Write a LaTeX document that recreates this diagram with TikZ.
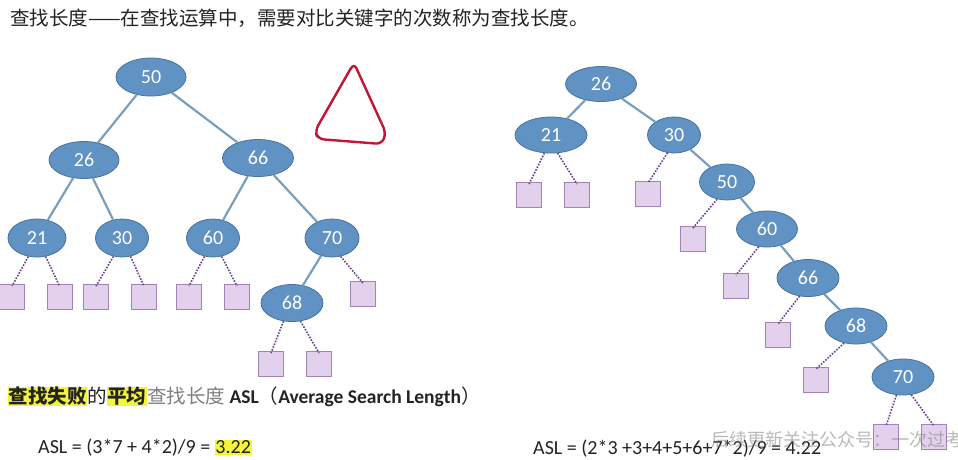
\documentclass[tikz,border=0pt]{standalone}
\usepackage{fontspec}
\setmainfont{Carlito}
\newfontfamily\cjk{Noto Sans CJK SC}
\usetikzlibrary{shapes.geometric}
\definecolor{nodefill}{RGB}{96,146,196}
\definecolor{nodeborder}{RGB}{70,115,160}
\definecolor{edgecol}{RGB}{120,160,190}
\definecolor{leaffill}{RGB}{226,208,236}
\definecolor{leafborder}{RGB}{160,132,182}
\definecolor{dotcol}{RGB}{105,65,140}
\definecolor{hl}{RGB}{245,245,60}
\definecolor{txt}{RGB}{35,35,35}
\definecolor{redpen}{RGB}{196,22,50}
\tikzset{
  tn/.style={ellipse, draw=nodeborder, line width=0.8, fill=nodefill, text=white,
    minimum width=60, minimum height=37, inner sep=0,
    font=\fontsize{20}{20}\selectfont},
  leaf/.style={rectangle, draw=leafborder, line width=0.9, fill=leaffill, minimum size=25, inner sep=0},
  treeedge/.style={draw=edgecol, line width=2.2},
  dotedge/.style={draw=dotcol, line width=1.6, dash pattern=on 1.6pt off 1.4pt},
}
\begin{document}
\begin{tikzpicture}[x=1pt,y=-1pt]
\useasboundingbox (0,0) rectangle (958,459);
\fill[white] (0,0) rectangle (958,459);

% title
\node[anchor=west, inner sep=0, text=txt, font=\cjk\fontsize{19.5}{20}\selectfont] (title) at (10,18)
  {查找长度——在查找运算中，需要对比关键字的次数称为查找长度。};

% ---------- left tree ----------
\node[tn, minimum width=70, minimum height=38] (L50) at (151,77) {50};
\node[tn, minimum width=70] (L26) at (84,160) {26};
\node[tn, minimum width=71] (L66) at (258,158) {66};
\node[tn, minimum width=58, minimum height=38] (L21) at (37,238) {21};
\node[tn, minimum width=53, minimum height=38] (L30) at (122,238) {30};
\node[tn, minimum width=53, minimum height=38] (L60) at (213,238) {60};
\node[tn, minimum width=54, minimum height=38] (L70) at (332,238) {70};
\node[tn, minimum width=62] (L68) at (292,303) {68};

\draw[treeedge] (L50) -- (L26);
\draw[treeedge] (L50) -- (L66);
\draw[treeedge] (L26) -- (L21);
\draw[treeedge] (L26) -- (L30);
\draw[treeedge] (L66) -- (L60);
\draw[treeedge] (L66) -- (L70);
\draw[treeedge] (L70) -- (L68);

\node[leaf] (La) at (12,297) {};
\node[leaf] (Lb) at (59.5,297) {};
\node[leaf] (Lc) at (96,297) {};
\node[leaf] (Ld) at (144,297) {};
\node[leaf] (Le) at (189,297) {};
\node[leaf] (Lf) at (237,297) {};
\node[leaf] (Lg) at (363,294) {};
\node[leaf] (Lh) at (271,364) {};
\node[leaf] (Li) at (319,364) {};

\draw[dotedge] (L21.-115) -- ([yshift=-2]La.north);
\draw[dotedge] (L21.-65) -- ([yshift=-2]Lb.north);
\draw[dotedge] (L30.-115) -- ([yshift=-2]Lc.north);
\draw[dotedge] (L30.-65) -- ([yshift=-2]Ld.north);
\draw[dotedge] (L60.-115) -- ([yshift=-2]Le.north);
\draw[dotedge] (L60.-65) -- ([yshift=-2]Lf.north);
\draw[dotedge] (L70.-65) -- ([yshift=-2]Lg.north);
\draw[dotedge] (L68.-115) -- ([yshift=-2]Lh.north);
\draw[dotedge] (L68.-65) -- ([yshift=-2]Li.north);

% red hand-drawn triangle
\draw[redpen, line width=2.4, line cap=round, line join=round, rounded corners=6]
  (350,70) -- (354,63) -- (386,133) -- (382,144) -- (318,139) -- (315,131) -- (351,68);

% ---------- right tree ----------
\node[tn, minimum width=71, minimum height=35] (R26) at (601,84) {26};
\node[tn, minimum width=72, minimum height=36] (R21) at (551,135) {21};
\node[tn, minimum width=53, minimum height=36] (R30) at (674,135) {30};
\node[tn, minimum width=55, minimum height=36] (R50) at (727,182) {50};
\node[tn, minimum width=61, minimum height=36] (R60) at (767,229) {60};
\node[tn, minimum width=62, minimum height=37] (R66) at (808,278) {66};
\node[tn, minimum width=62, minimum height=36] (R68) at (856,326) {68};
\node[tn, minimum width=62, minimum height=36] (R70) at (903,377) {70};

\draw[treeedge] (R26) -- (R21);
\draw[treeedge] (R26) -- (R30);
\draw[treeedge] (R30) -- (R50);
\draw[treeedge] (R50) -- (R60);
\draw[treeedge] (R60) -- (R66);
\draw[treeedge] (R66) -- (R68);
\draw[treeedge] (R68) -- (R70);

\node[leaf] (Ra) at (529,195) {};
\node[leaf] (Rb) at (577,195) {};
\node[leaf] (Rc) at (648,194) {};
\node[leaf] (Rd) at (693,239) {};
\node[leaf] (Re) at (736,286) {};
\node[leaf] (Rf) at (778,335) {};
\node[leaf] (Rg) at (816,380) {};
\node[leaf] (Rh) at (886,437) {};
\node[leaf] (Ri) at (934,437) {};

\draw[dotedge] (R21.-110) -- ([yshift=-2]Ra.north);
\draw[dotedge] (R21.-70) -- ([yshift=-2]Rb.north);
\draw[dotedge] (R30.-110) -- ([yshift=-2]Rc.north);
\draw[dotedge] (R50.-120) -- ([yshift=-2]Rd.north);
\draw[dotedge] (R60.-115) -- ([yshift=-2]Re.north);
\draw[dotedge] (R66.-115) -- ([yshift=-2]Rf.north);
\draw[dotedge] (R68.-125) -- ([yshift=-2]Rg.north);
\draw[dotedge] (R70.-110) -- ([yshift=-2]Rh.north);
\draw[dotedge] (R70.-65) -- ([yshift=-2]Ri.north);

% ---------- texts ----------
\setlength{\fboxsep}{0.6pt}
\node[anchor=west, inner sep=0, text=txt, font=\fontsize{19.5}{20}\selectfont] (asltitle) at (8,397)
  {{\cjk\colorbox{hl}{\bfseries 查找失败}的\colorbox{hl}{\bfseries 平均}\textcolor{gray}{查找长度}} \textbf{ASL}{\cjk（}\textbf{Average Search Length}{\cjk）}};
\node[anchor=west, inner sep=0, text=txt, font=\fontsize{20}{20}\selectfont] (aslleft) at (38,448)
  {ASL = (3*7 + 4*2)/9 = \colorbox{hl}{3.22}};
\node[anchor=west, inner sep=0, text=txt, font=\fontsize{20}{20}\selectfont] (aslright) at (533,449)
  {ASL = (2*3 +3+4+5+6+7*2)/9 = 4.22};

% watermark
\node[anchor=west, inner sep=0, text=gray, opacity=0.55, font=\cjk\fontsize{18}{18}\selectfont] (wm) at (711,440)
  {后续更新关注公众号：一次过考};
\end{tikzpicture}
\end{document}
